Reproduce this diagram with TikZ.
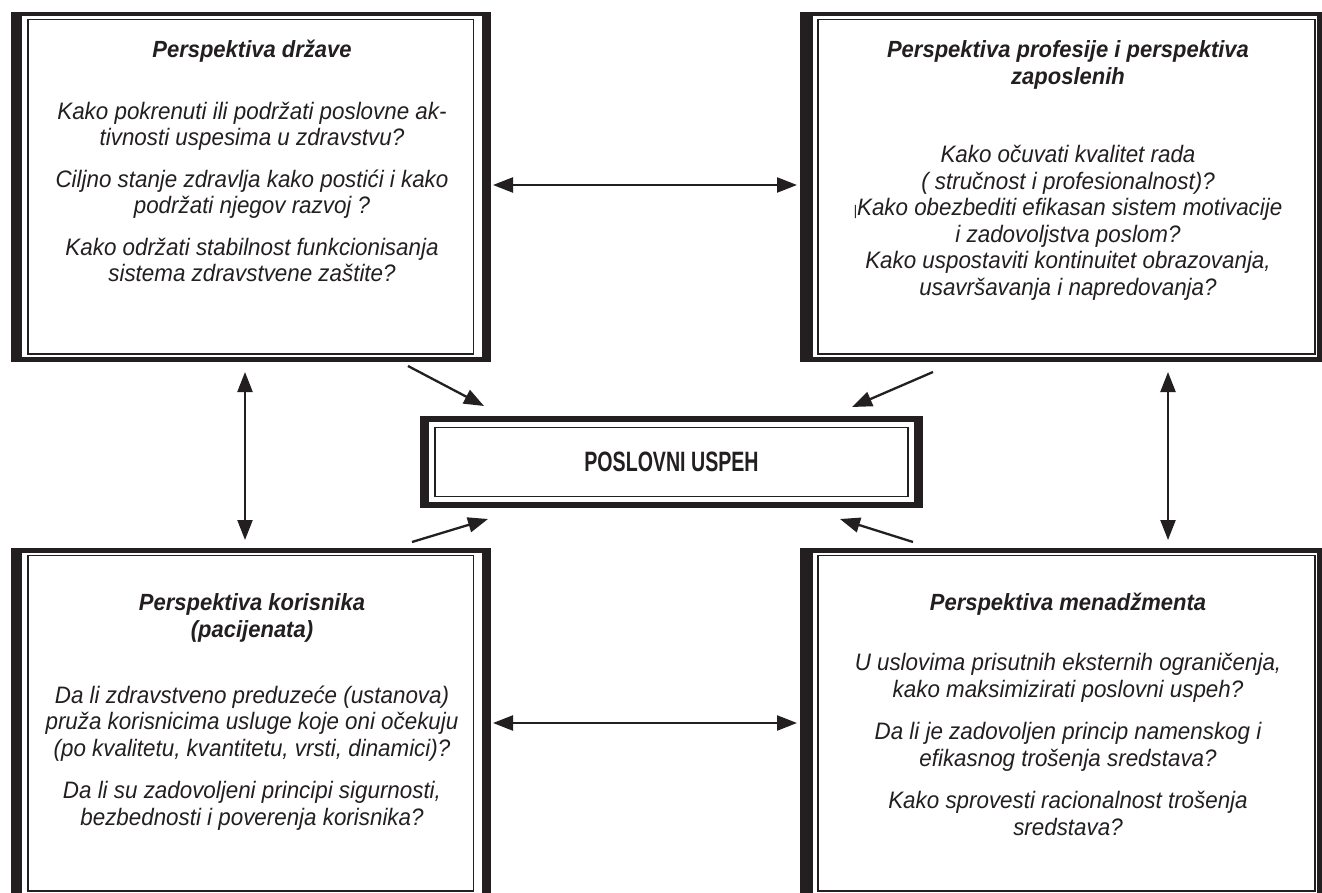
\documentclass[tikz,border=0pt]{standalone}
\usepackage{fontspec}
\setmainfont{Liberation Sans}
\newfontfamily\bodyfont[FakeStretch=0.94]{Liberation Sans}
\newfontfamily\centerfont[FakeStretch=0.70]{Liberation Sans}
\usetikzlibrary{arrows.meta,calc}
\definecolor{ink}{HTML}{231F20}
\tikzset{
  outerbox/.style={fill=ink, draw=none, inner sep=0pt, outer sep=0pt},
  innerline/.style={draw=ink, line width=1.8pt},
  bodytxt/.style={font=\bodyfont\itshape\fontsize{23.8}{26.5}\selectfont, align=center, inner sep=0pt, anchor=base, text=ink},
  titletxt/.style={font=\bodyfont\bfseries\itshape\fontsize{23.4}{27}\selectfont, align=center, inner sep=0pt, anchor=base, text=ink},
  centertxt/.style={font=\centerfont\bfseries\fontsize{28}{32}\selectfont, inner sep=0pt, text=ink},
  arrowhd/.tip={Triangle[length=20pt,width=15pt]},
  sarrow/.style={draw=ink, line width=2.3pt, -arrowhd},
  darrow/.style={draw=ink, line width=2.3pt, arrowhd-arrowhd},
}
\begin{document}
\begin{tikzpicture}[x=1pt,y=-1pt]
\useasboundingbox[fill=white] (0,0) rectangle (1322,893);
\begin{scope}
\clip (0,0) rectangle (1322,893);
% top-left box
\node[outerbox, minimum width=480pt, minimum height=350pt] (tl) at (251,187) {};
\fill[white] (22,16) rectangle (482,357);
\draw[innerline] (28,19.5) rectangle (473.5,354);
% top-right box
\node[outerbox, minimum width=522pt, minimum height=350pt] (tr) at (1061,187) {};
\fill[white] (813,16) rectangle (1317,357);
\draw[innerline] (818,19.5) rectangle (1315,354);
% bottom-left box
\node[outerbox, minimum width=480pt, minimum height=350pt] (bl) at (251,723) {};
\fill[white] (22,553) rectangle (482,895);
\draw[innerline] (28,555.5) rectangle (473.5,891);
% bottom-right box
\node[outerbox, minimum width=522pt, minimum height=350pt] (br) at (1061,723) {};
\fill[white] (813,553) rectangle (1317,895);
\draw[innerline] (818,555.5) rectangle (1315,891);
% center box
\node[outerbox, minimum width=503pt, minimum height=92pt] (c) at (671.5,462) {};
\fill[white] (429,422) rectangle (914,502);
\draw[innerline] (435,427.5) rectangle (908,496.5);
\end{scope}

\node[centertxt] (ct) at (c.center) {POSLOVNI USPEH};

% texts top-left (anchor base = baseline of last line)
\node[titletxt] (t1) at (252,58) {Perspektiva države};
\node[bodytxt] (b1) at (252,282) {Kako pokrenuti ili podržati poslovne ak-\\tivnosti uspesima u zdravstvu?\\[15pt]
Ciljno stanje zdravlja kako postići i kako\\podržati njegov razvoj ?\\[15pt]
Kako održati stabilnost funkcionisanja\\sistema zdravstvene zaštite?};

% texts top-right
\node[titletxt] (t2) at (1068,85) {Perspektiva profesije i perspektiva\\zaposlenih};
\node[bodytxt] (b2) at (1068,295) {Kako očuvati kvalitet rada\\( stručnost i profesionalnost)?\\{\fontsize{14}{14}\selectfont|}Kako obezbediti efikasan sistem motivacije\\i zadovoljstva poslom?\\Kako uspostaviti kontinuitet obrazovanja,\\usavršavanja i napredovanja?};

% texts bottom-left
\node[titletxt] (t3) at (252,637) {Perspektiva korisnika\\(pacijenata)};
\node[bodytxt] (b3) at (252,825) {Da li zdravstveno preduzeće (ustanova)\\pruža korisnicima usluge koje oni očekuju\\(po kvalitetu, kvantitetu, vrsti, dinamici)?\\[16pt]
Da li su zadovoljeni principi sigurnosti,\\bezbednosti i poverenja korisnika?};

% texts bottom-right
\node[titletxt] (t4) at (1068,610) {Perspektiva menadžmenta};
\node[bodytxt] (b4) at (1068,835) {U uslovima prisutnih eksternih ograničenja,\\kako maksimizirati poslovni uspeh?\\[16pt]
Da li je zadovoljen princip namenskog i\\efikasnog trošenja sredstava?\\[16pt]
Kako sprovesti racionalnost trošenja\\sredstava?};

% arrows
\draw[darrow, shorten <=2pt, shorten >=3pt] ([yshift=2pt]tl.east) -- ([yshift=2pt]tr.west);
\draw[darrow, shorten <=2pt, shorten >=3pt] (bl.east) -- (br.west);
\draw[darrow, shorten <=10pt, shorten >=8pt] ([xshift=-6pt]tl.south) -- ([xshift=-6pt]bl.north);
\draw[darrow, shorten <=10pt, shorten >=8pt] ([xshift=107pt]tr.south) -- ([xshift=107pt]br.north);
\draw[sarrow] ($(tl.south east)+(-83,4)$) -- ($(c.north west)+(64,-10)$);
\draw[sarrow] ($(tr.south west)+(133,10)$) -- ($(c.north east)+(-71,-9)$);
\draw[sarrow] ($(bl.north east)+(-79,-6)$) -- ($(c.south west)+(68,11)$);
\draw[sarrow] ($(br.north west)+(113,-6)$) -- ($(c.south east)+(-83,11)$);
\end{tikzpicture}
\end{document}
